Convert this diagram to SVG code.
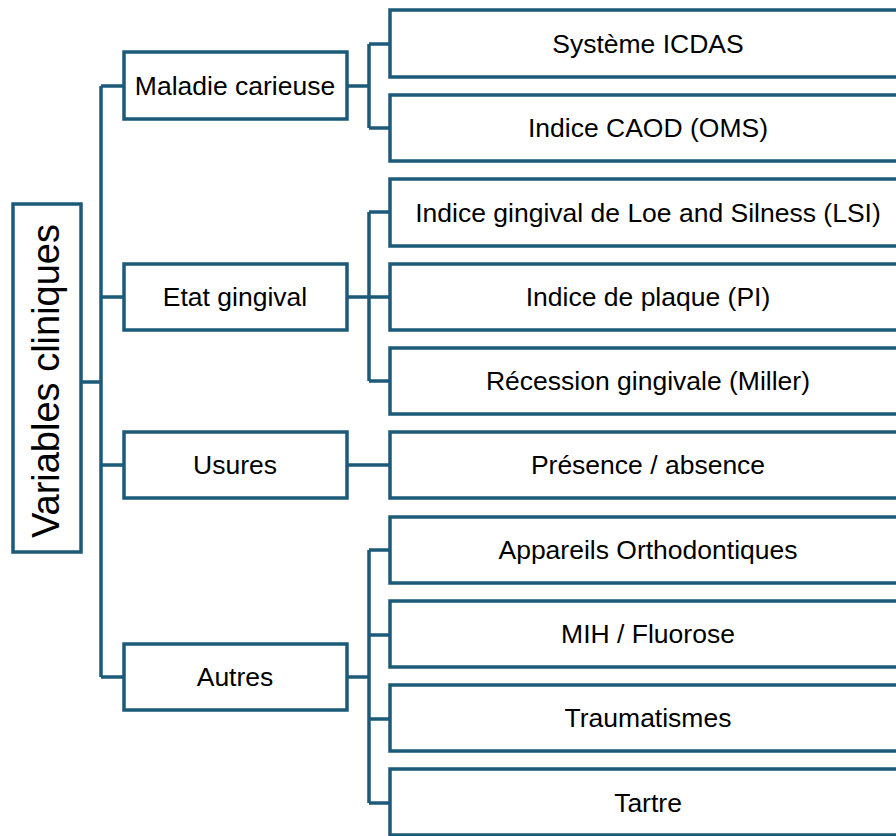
<svg xmlns="http://www.w3.org/2000/svg" width="896" height="836" viewBox="0 0 896 836">
<style>
.b{fill:#fff;stroke:#1b5a78;stroke-width:3.5}
.c{fill:none;stroke:#1b5a78;stroke-width:3.5}
text{font-family:"Liberation Sans",Arial,sans-serif;font-size:26.5px;fill:#000;text-anchor:middle;dominant-baseline:central}
</style>
<rect width="896" height="836" fill="#fff"/>
<g id="connectors">
<path class="c" d="M81,382H101M101,86V677M101,86H124M101,297H124M101,465H124M101,677H124"/>
<path class="c" d="M347,86H369M369,44V128M369,44H390M369,128H390"/>
<path class="c" d="M347,297H390M369,212V381M369,212H390M369,381H390"/>
<path class="c" d="M347,465H390"/>
<path class="c" d="M347,677H369M369,550V803M369,550H390M369,635H390M369,719H390M369,803H390"/>
</g>
<g id="root"><rect class="b" x="13" y="204" width="68" height="348"/><text transform="translate(46,381) rotate(-90)" style="font-size:38px">Variables cliniques</text></g>
<g id="n1"><rect class="b" x="124" y="52" width="223" height="67"/><text x="235" y="86">Maladie carieuse</text></g>
<g id="n2"><rect class="b" x="124" y="264" width="223" height="66"/><text x="235" y="297">Etat gingival</text></g>
<g id="n3"><rect class="b" x="124" y="432" width="223" height="66"/><text x="235" y="465">Usures</text></g>
<g id="n4"><rect class="b" x="124" y="644" width="223" height="66"/><text x="235" y="677">Autres</text></g>
<g id="r1"><rect class="b" x="390" y="10" width="520" height="67"/><text x="648" y="44">Système ICDAS</text></g>
<g id="r2"><rect class="b" x="390" y="95" width="520" height="66"/><text x="648" y="128">Indice CAOD (OMS)</text></g>
<g id="r3"><rect class="b" x="390" y="179" width="520" height="67"/><text x="648" y="213">Indice gingival de Loe and Silness (LSI)</text></g>
<g id="r4"><rect class="b" x="390" y="264" width="520" height="66"/><text x="648" y="297">Indice de plaque (PI)</text></g>
<g id="r5"><rect class="b" x="390" y="348" width="520" height="66"/><text x="648" y="381">Récession gingivale (Miller)</text></g>
<g id="r6"><rect class="b" x="390" y="432" width="520" height="66"/><text x="648" y="465">Présence / absence</text></g>
<g id="r7"><rect class="b" x="390" y="517" width="520" height="66"/><text x="648" y="550">Appareils Orthodontiques</text></g>
<g id="r8"><rect class="b" x="390" y="601" width="520" height="66"/><text x="648" y="634">MIH / Fluorose</text></g>
<g id="r9"><rect class="b" x="390" y="685" width="520" height="66"/><text x="648" y="718">Traumatismes</text></g>
<g id="r10"><rect class="b" x="390" y="769" width="520" height="66"/><text x="648" y="803">Tartre</text></g>
</svg>
